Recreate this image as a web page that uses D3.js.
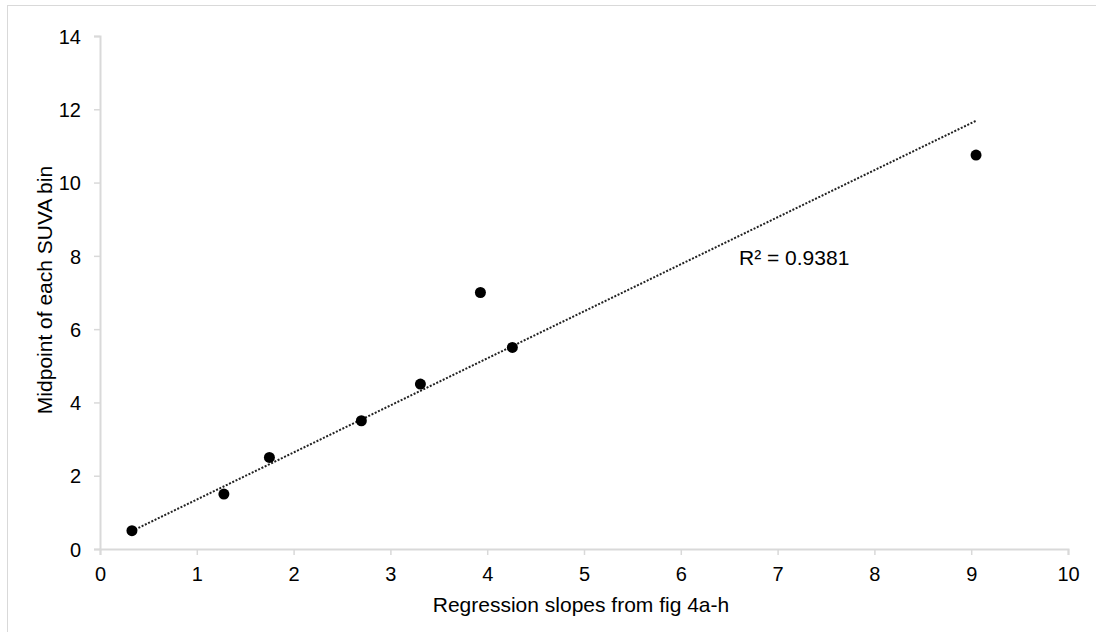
<!DOCTYPE html>
<html>
<head>
<meta charset="utf-8">
<script src="https://cdn.jsdelivr.net/npm/d3@7"></script>
<style>
  body { margin: 0; background: #fff; }
  text { font-family: "Liberation Sans", Arial, sans-serif; fill: #000; }
</style>
</head>
<body>
<div id="chart"></div>
<script>
// values
var slopes = [0.33, 1.28, 1.75, 2.70, 3.31, 3.93, 4.26, 9.05];
var midpoints = [0.5, 1.5, 2.5, 3.5, 4.5, 7.0, 5.5, 10.75];
var xTicks = [0, 1, 2, 3, 4, 5, 6, 7, 8, 9, 10];
var yTicks = [0, 2, 4, 6, 8, 10, 12, 14];
var trend = [1.284, 0.066];   // slope, intercept of the trendline
var rSquared = "R\u00b2 = 0.9381";

var width = 1096, height = 632;

var svg = d3.select("#chart").append("svg")
  .attr("width", width).attr("height", height);

// chart border
svg.append("rect")
  .attr("x", 7.5).attr("y", 5.5)
  .attr("width", 1200).attr("height", 800)
  .attr("fill", "none").attr("stroke", "#d9d9d9");

var x = d3.scaleLinear().domain([0, 10]).range([100, 1068]);
var y = d3.scaleLinear().domain([0, 14]).range([549, 36]);

var xAxis = svg.append("g")
  .attr("transform", "translate(0,549)")
  .call(d3.axisBottom(x).tickValues(xTicks).tickSize(6).tickPadding(12));

var yAxis = svg.append("g")
  .attr("transform", "translate(100,0)")
  .call(d3.axisLeft(y).tickValues(yTicks).tickSize(6).tickPadding(13));

[xAxis, yAxis].forEach(function(a) {
  a.select(".domain").attr("stroke", "#d9d9d9").attr("stroke-width", 2);
  a.selectAll(".tick line").attr("stroke", "#d9d9d9").attr("stroke-width", 1.5);
  a.selectAll(".tick text")
    .attr("font-size", 20)
    .attr("font-family", "Liberation Sans, Arial, sans-serif")
    .attr("fill", "#000");
});
yAxis.selectAll(".tick text").attr("dy", "0.36em");

// trendline over the data range
var x0 = d3.min(slopes), x1 = d3.max(slopes);
svg.append("line")
  .attr("x1", x(x0)).attr("y1", y(trend[0] * x0 + trend[1]))
  .attr("x2", x(x1)).attr("y2", y(trend[0] * x1 + trend[1]))
  .attr("stroke", "#222")
  .attr("stroke-width", 2)
  .attr("stroke-dasharray", "2,1.6");

svg.selectAll("circle.pt")
  .data(slopes)
  .enter().append("circle")
  .attr("class", "pt")
  .attr("cx", function(d) { return x(d); })
  .attr("cy", function(d, i) { return y(midpoints[i]); })
  .attr("r", 5.5)
  .attr("fill", "#000");

svg.append("text")
  .attr("x", 739).attr("y", 265)
  .attr("font-size", 21)
  .text(rSquared);

svg.append("text")
  .attr("x", 581).attr("y", 612)
  .attr("text-anchor", "middle")
  .attr("font-size", 21)
  .text("Regression slopes from fig 4a-h");

svg.append("text")
  .attr("transform", "translate(52,290) rotate(-90)")
  .attr("text-anchor", "middle")
  .attr("font-size", 21)
  .text("Midpoint of each SUVA bin");
</script>
</body>
</html>
